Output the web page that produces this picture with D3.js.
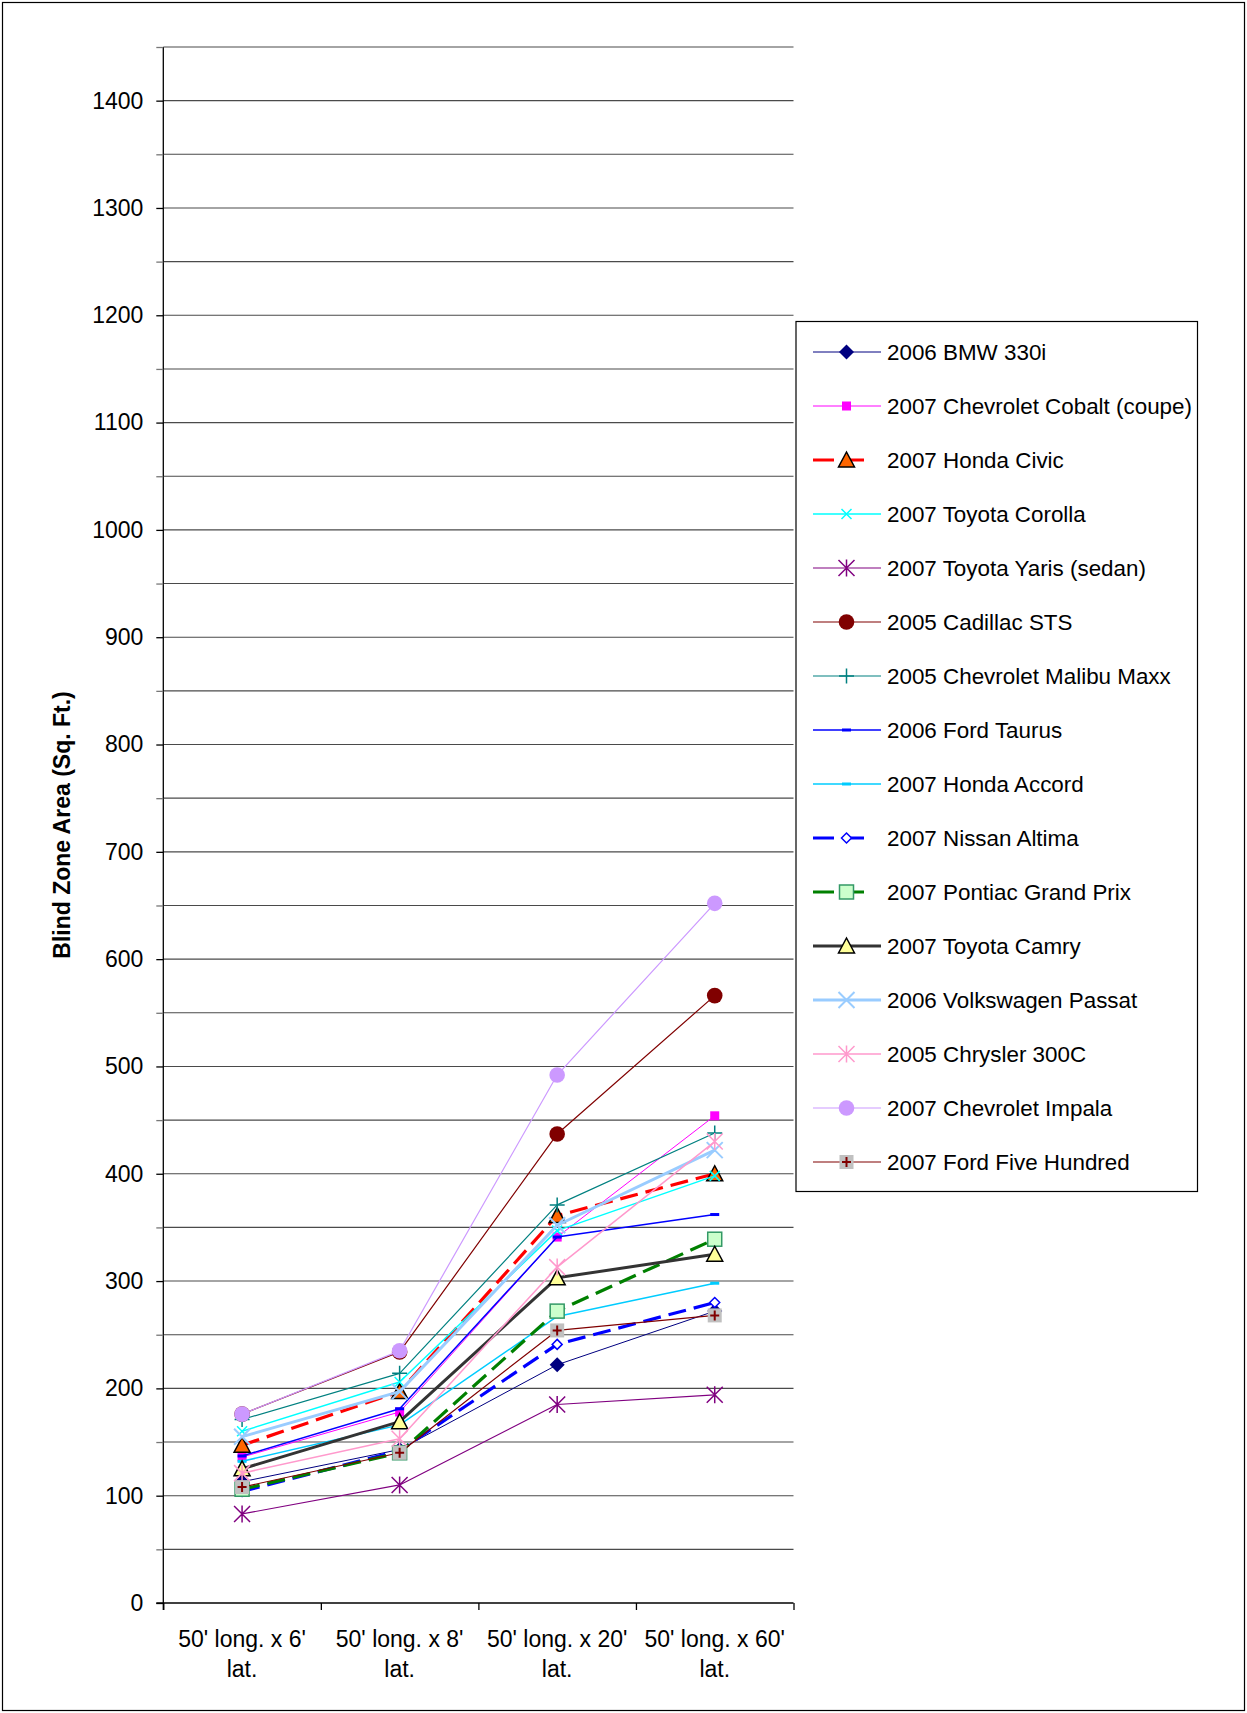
<!DOCTYPE html>
<html>
<head>
<meta charset="utf-8">
<script src="https://cdn.jsdelivr.net/npm/d3@7"></script>
<style>
  html, body { margin: 0; padding: 0; background: #fff; }
  svg { display: block; font-family: "Liberation Sans", Arial, sans-serif; }
</style>
</head>
<body>
<svg id="chart" width="1247" height="1713"></svg>
<script>
// ---------- DATA ----------
const categories = ["50' long. x 6' lat.", "50' long. x 8' lat.", "50' long. x 20' lat.", "50' long. x 60' lat."];
const seriesNames = [
  "2006 BMW 330i", "2007 Chevrolet Cobalt (coupe)", "2007 Honda Civic", "2007 Toyota Corolla",
  "2007 Toyota Yaris (sedan)", "2005 Cadillac STS", "2005 Chevrolet Malibu Maxx", "2006 Ford Taurus",
  "2007 Honda Accord", "2007 Nissan Altima", "2007 Pontiac Grand Prix", "2007 Toyota Camry",
  "2006 Volkswagen Passat", "2005 Chrysler 300C", "2007 Chevrolet Impala", "2007 Ford Five Hundred"
];
const bmw330i      = [113, 143, 222, 272];
const cobalt       = [136, 178, 341, 454];
const civic        = [147, 197, 361, 400];
const corolla      = [160, 206, 347, 398];
const yaris        = [83, 110, 185, 194];
const cadillacSTS  = [176, 234, 437, 566];
const malibuMaxx   = [171, 214, 371, 438];
const fordTaurus   = [137, 181, 341, 362];
const hondaAccord  = [132, 166, 267, 298];
const nissanAltima = [104, 142, 241, 280];
const grandPrix    = [106, 140, 272, 339];
const camry        = [125, 169, 303, 325];
const passat       = [155, 197, 352, 422];
const chrysler300C = [121, 153, 313, 430];
const impala       = [176, 235, 492, 652];
const fiveHundred  = [108, 140, 254, 268];
const seriesValues = [bmw330i, cobalt, civic, corolla, yaris, cadillacSTS, malibuMaxx, fordTaurus,
  hondaAccord, nissanAltima, grandPrix, camry, passat, chrysler300C, impala, fiveHundred];
const yTickValues = d3.range(0, 1451, 50);
const yAxisTitle = "Blind Zone Area (Sq. Ft.)";

// ---------- STYLES ----------
const styles = [
  {color: "#000080", width: 1,   dash: null, marker: "diamond",   fill: "#000080"},
  {color: "#FF00FF", width: 1,   dash: null, marker: "square",    fill: "#FF00FF"},
  {color: "#FF0000", width: 3.2, dash: "18,8", marker: "triangle", fill: "#FF6600"},
  {color: "#00FFFF", width: 1.5, dash: null, marker: "x",         fill: "#00FFFF"},
  {color: "#800080", width: 1.2, dash: null, marker: "asterisk",  fill: "#800080"},
  {color: "#800000", width: 1.2, dash: null, marker: "circle",    fill: "#800000"},
  {color: "#008080", width: 1.2, dash: null, marker: "plus",      fill: "#008080"},
  {color: "#0000FF", width: 1.5, dash: null, marker: "dash",      fill: "#0000FF"},
  {color: "#00CCFF", width: 1.5, dash: null, marker: "dash",      fill: "#00CCFF"},
  {color: "#0000FF", width: 3.2, dash: "18,8", marker: "odiamond", fill: "#FFFFFF"},
  {color: "#008000", width: 3.2, dash: "18,8", marker: "gsquare",  fill: "#CCFFCC"},
  {color: "#333333", width: 3,   dash: null, marker: "triangle",  fill: "#FFFF99"},
  {color: "#99CCFF", width: 3,   dash: null, marker: "bigx",      fill: "#99CCFF"},
  {color: "#FF99CC", width: 1.5, dash: null, marker: "asterisk",  fill: "#FF99CC"},
  {color: "#CC99FF", width: 1.2, dash: null, marker: "circle",    fill: "#CC99FF"},
  {color: "#800000", width: 1.2, dash: null, marker: "grayplus",  fill: "#C0C0C0"}
];

// ---------- LAYOUT ----------
const svg = d3.select("#chart");
const plot = {left: 163.3, right: 793.5, top: 47, bottom: 1603};
const font = "'Liberation Sans', Arial, sans-serif";

svg.append("rect").attr("x", 2.5).attr("y", 2.5).attr("width", 1242).attr("height", 1708)
  .attr("fill", "#fff").attr("stroke", "#000").attr("stroke-width", 1.2);

const y = d3.scaleLinear().domain([0, 1450]).range([plot.bottom, plot.top]);
const xBand = d3.scaleBand().domain(categories).range([plot.left, plot.right]).padding(0);
const xc = c => xBand(c) + xBand.bandwidth() / 2;
const xIdx = d3.scaleLinear().domain([0, categories.length]).range([plot.left, plot.right]);

// gridlines
svg.append("g").selectAll("line").data(yTickValues.filter(v => v > 0)).join("line")
  .attr("x1", plot.left).attr("x2", plot.right)
  .attr("y1", d => y(d)).attr("y2", d => y(d))
  .attr("stroke", "#4a4a4a").attr("stroke-width", 1.1);

// y axis
const yAxis = svg.append("g").attr("transform", `translate(${plot.left},0)`)
  .call(d3.axisLeft(y).tickValues(yTickValues).tickSize(7).tickPadding(13)
    .tickFormat(d => d % 100 === 0 ? d : ""));
yAxis.select(".domain").attr("stroke", "#000").attr("stroke-width", 1.3)
  .attr("d", `M0,${plot.top}V${plot.bottom + 7}`);
yAxis.selectAll(".tick line").attr("stroke", d => d % 100 === 0 ? "#000" : "#777").attr("stroke-width", 1.3);
yAxis.selectAll(".tick text").attr("font-size", 23).attr("font-family", font).attr("fill", "#000");

// x axis
const xAxis = svg.append("g").attr("transform", `translate(0,${plot.bottom})`)
  .call(d3.axisBottom(xIdx).tickValues(d3.range(0, categories.length + 1)).tickSize(7).tickFormat(""));
xAxis.select(".domain").attr("stroke", "#000").attr("stroke-width", 1.3)
  .attr("d", `M${plot.left - 7},0H${plot.right}`);
xAxis.selectAll(".tick line").attr("stroke", "#000").attr("stroke-width", 1.3);

const xLabels = svg.append("g").selectAll("text").data(categories).join("text")
  .attr("text-anchor", "middle").attr("font-size", 23).attr("font-family", font).attr("fill", "#000");
xLabels.each(function(c) {
  const parts = [c.replace(/ lat\.$/, ""), "lat."];
  d3.select(this).selectAll("tspan").data(parts).join("tspan")
    .attr("x", xc(c)).attr("y", (d, i) => 1647 + i * 30).text(d => d);
});

// y title
svg.append("text").attr("transform", "translate(70,825) rotate(-90)")
  .attr("text-anchor", "middle").attr("font-size", 23).attr("font-weight", "bold")
  .attr("font-family", font).text(yAxisTitle);

// ---------- MARKERS ----------
function drawMarker(g, s) {
  const c = s.color;
  switch (s.marker) {
    case "diamond":
      g.append("path").attr("d", "M0,-7.5L7.5,0L0,7.5L-7.5,0Z").attr("fill", s.fill); break;
    case "square":
      g.append("rect").attr("x", -4.5).attr("y", -4.5).attr("width", 9).attr("height", 9).attr("fill", s.fill); break;
    case "triangle":
      g.append("path").attr("d", "M0,-8L8,7L-8,7Z").attr("fill", s.fill).attr("stroke", "#000").attr("stroke-width", 1.5); break;
    case "x":
      g.append("path").attr("d", "M-5,-5L5,5M-5,5L5,-5").attr("stroke", c).attr("stroke-width", 1.5); break;
    case "bigx":
      g.append("path").attr("d", "M-8,-8L8,8M-8,8L8,-8").attr("stroke", c).attr("stroke-width", 2); break;
    case "asterisk":
      g.append("path").attr("d", "M-8,-8L8,8M-8,8L8,-8M0,-8.5V8.5").attr("stroke", c).attr("stroke-width", 1.5); break;
    case "circle":
      g.append("circle").attr("r", 7.8).attr("fill", s.fill); break;
    case "plus":
      g.append("path").attr("d", "M-7.5,0H7.5M0,-7.5V7.5").attr("stroke", c).attr("stroke-width", 1.5); break;
    case "dash":
      g.append("rect").attr("x", -4.5).attr("y", -1.5).attr("width", 9).attr("height", 3).attr("fill", s.fill); break;
    case "odiamond":
      g.append("path").attr("d", "M0,-5L5,0L0,5L-5,0Z").attr("fill", "#fff").attr("stroke", c).attr("stroke-width", 1.5); break;
    case "gsquare":
      g.append("rect").attr("x", -7).attr("y", -7).attr("width", 14).attr("height", 14)
        .attr("fill", s.fill).attr("stroke", "#339966").attr("stroke-width", 1.5); break;
    case "grayplus":
      g.append("rect").attr("x", -7).attr("y", -7).attr("width", 14).attr("height", 14).attr("fill", s.fill);
      g.append("path").attr("d", "M-4.5,0H4.5M0,-5V5").attr("stroke", "#800000").attr("stroke-width", 2); break;
  }
}

// ---------- SERIES ----------
const line = d3.line().x((d, i) => xc(categories[i])).y(d => y(d));
seriesValues.forEach((vals, si) => {
  const s = styles[si];
  const g = svg.append("g");
  g.append("path").attr("d", line(vals)).attr("fill", "none")
    .attr("stroke", s.color).attr("stroke-width", s.width)
    .attr("stroke-dasharray", s.dash).attr("stroke-linejoin", "round");
  vals.forEach((v, i) => {
    drawMarker(g.append("g").attr("transform", `translate(${xc(categories[i])},${y(v)})`), s);
  });
});

// ---------- LEGEND ----------
const legend = svg.append("g");
legend.append("rect").attr("x", 796).attr("y", 321.5).attr("width", 401.5).attr("height", 870)
  .attr("fill", "#fff").attr("stroke", "#000").attr("stroke-width", 1.2);
seriesNames.forEach((name, i) => {
  const s = styles[i];
  const yy = 352 + i * 54;
  const row = legend.append("g");
  row.append("line").attr("x1", 813).attr("x2", s.dash ? 868 : 881).attr("y1", yy).attr("y2", yy)
    .attr("stroke", s.color).attr("stroke-width", s.width)
    .attr("stroke-dasharray", s.dash ? "21,9" : null);
  drawMarker(row.append("g").attr("transform", `translate(846.5,${yy})`), s);
  row.append("text").attr("x", 887).attr("y", yy + 7.5).attr("font-size", 22.4)
    .attr("font-family", font).attr("fill", "#000").text(name);
});
</script>
</body>
</html>
